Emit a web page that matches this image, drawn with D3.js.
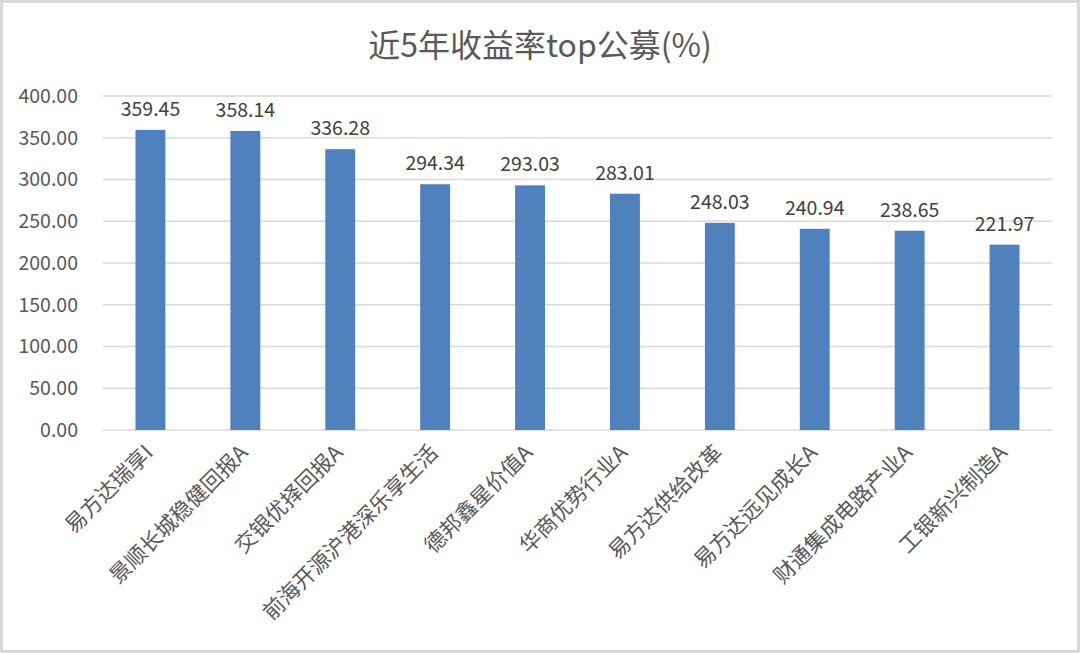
<!DOCTYPE html>
<html>
<head>
<meta charset="utf-8">
<script src="https://cdn.jsdelivr.net/npm/d3@7"></script>
<style>
  body { margin: 0; background: #fff; }
  svg { display: block; }
</style>
</head>
<body>
<svg width="1080" height="653"></svg>
<script>
var funds = ["易方达瑞享I", "景顺长城稳健回报A", "交银优择回报A", "前海开源沪港深乐享生活", "德邦鑫星价值A",
    "华商优势行业A", "易方达供给改革", "易方达远见成长A", "财通集成电路产业A", "工银新兴制造A"];
var returns = [359.45, 358.14, 336.28, 294.34, 293.03, 283.01, 248.03, 240.94, 238.65, 221.97];
var yTicks = [0, 50, 100, 150, 200, 250, 300, 350, 400];
var title = "近5年收益率top公募(%)";

var fontCJK = "'Noto Sans CJK SC', 'Noto Sans', sans-serif";

var svg = d3.select("svg");

// outer frame
svg.append("rect")
    .attr("x", 1.5).attr("y", 1.5)
    .attr("width", 1077).attr("height", 650)
    .attr("fill", "#fff")
    .attr("stroke", "#d9d9d9")
    .attr("stroke-width", 3);

var margin = { top: 96, right: 28, bottom: 223, left: 103 };
var graphWidth = 1080 - margin.left - margin.right;
var graphHeight = 653 - margin.top - margin.bottom;

var graph = svg.append("g")
    .attr("transform", "translate(" + margin.left + "," + margin.top + ")");

var x = d3.scaleBand()
    .domain(funds)
    .range([0, graphWidth])
    .paddingInner(0.685)
    .paddingOuter(0.3425);

var y = d3.scaleLinear()
    .domain([0, 400])
    .range([graphHeight, 0]);

// gridlines
graph.append("g")
    .selectAll("line")
    .data(yTicks)
    .enter()
    .append("line")
    .attr("x1", 0)
    .attr("x2", graphWidth)
    .attr("y1", function(d) { return y(d); })
    .attr("y2", function(d) { return y(d); })
    .attr("stroke", "#d9d9d9")
    .attr("stroke-width", 1.3);

// y axis labels
var yAxis = d3.axisLeft(y)
    .tickValues(yTicks)
    .tickSize(0)
    .tickPadding(25)
    .tickFormat(d3.format(".2f"));

var yAxisGroup = graph.append("g").call(yAxis);
yAxisGroup.select(".domain").remove();
yAxisGroup.selectAll("text")
    .attr("fill", "#595959")
    .attr("font-family", fontCJK)
    .attr("font-size", "19.5px");

// bars
graph.selectAll("rect.bar")
    .data(funds)
    .enter()
    .append("rect")
    .attr("class", "bar")
    .attr("x", function(d) { return x(d); })
    .attr("y", function(d, i) { return y(returns[i]); })
    .attr("width", x.bandwidth())
    .attr("height", function(d, i) { return graphHeight - y(returns[i]); })
    .attr("fill", "#4f81bd");

// data labels
graph.selectAll("text.val")
    .data(funds)
    .enter()
    .append("text")
    .attr("class", "val")
    .attr("x", function(d) { return x(d) + x.bandwidth() / 2; })
    .attr("y", function(d, i) { return y(returns[i]) - 14; })
    .attr("text-anchor", "middle")
    .attr("fill", "#404040")
    .attr("font-family", fontCJK)
    .attr("font-size", "19.5px")
    .text(function(d, i) { return returns[i].toFixed(2); });

// x axis
var xAxisGroup = graph.append("g")
    .attr("transform", "translate(0," + graphHeight + ")")
    .call(d3.axisBottom(x).tickSize(0).tickPadding(0));
xAxisGroup.select(".domain").remove();
xAxisGroup.selectAll("text")
    .attr("fill", "#595959")
    .attr("font-family", fontCJK)
    .attr("font-size", "21.5px")
    .attr("text-anchor", "end")
    .attr("dy", null)
    .attr("transform", "translate(4,24) rotate(-45)");

// title
svg.append("text")
    .attr("x", 540)
    .attr("y", 57)
    .attr("text-anchor", "middle")
    .attr("fill", "#595959")
    .attr("font-family", fontCJK)
    .attr("font-size", "32px")
    .text(title);
</script>
</body>
</html>
